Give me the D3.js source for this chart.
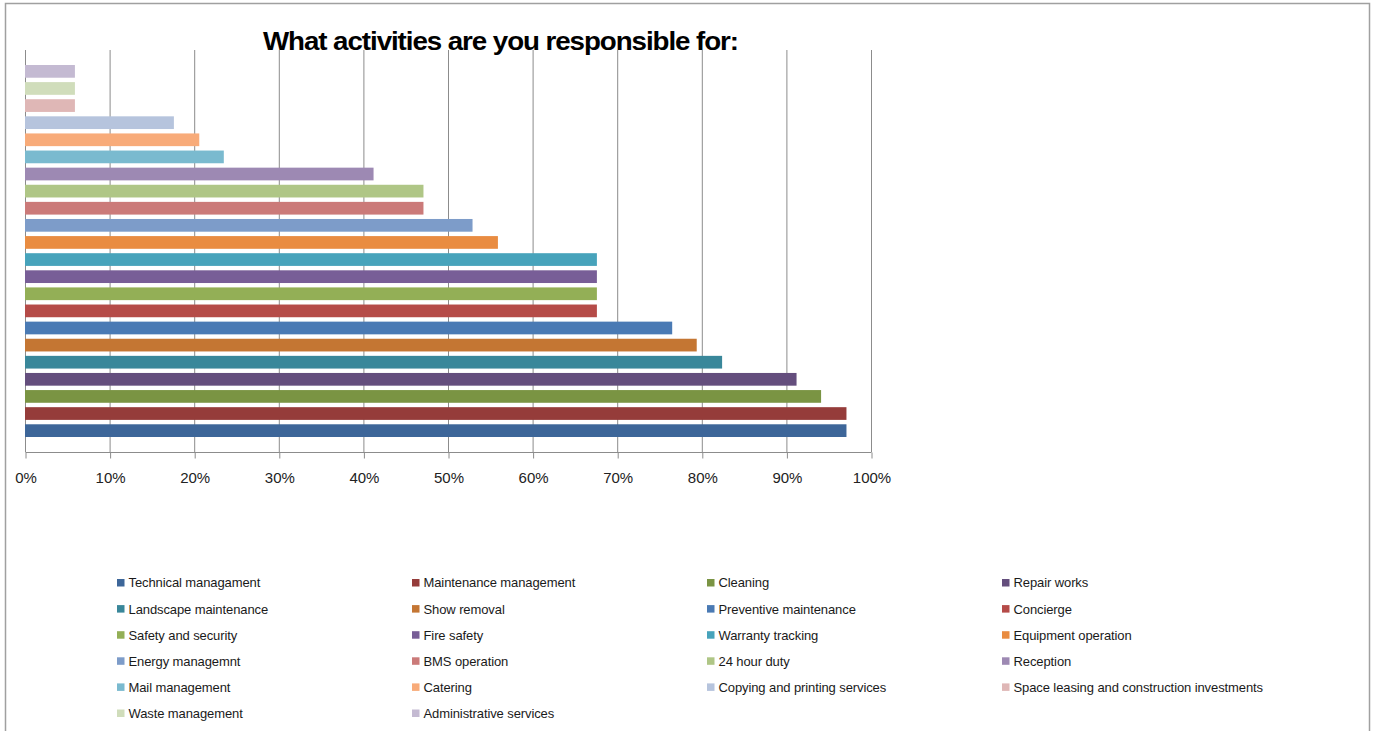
<!DOCTYPE html>
<html>
<head>
<meta charset="utf-8">
<script src="https://cdn.jsdelivr.net/npm/d3@7"></script>
<style>
  html, body { margin: 0; padding: 0; background: #fff; }
  svg { display: block; font-family: "Liberation Sans", Arial, sans-serif; }
</style>
</head>
<body>
<svg id="chart" width="1376" height="731"></svg>
<script>
// Survey answers, share of respondents (%), in legend order
const activities = [
  "Technical managament", "Maintenance management", "Cleaning", "Repair works",
  "Landscape maintenance", "Show removal", "Preventive maintenance", "Concierge",
  "Safety and security", "Fire safety", "Warranty tracking", "Equipment operation",
  "Energy managemnt", "BMS operation", "24 hour duty", "Reception",
  "Mail management", "Catering", "Copying and printing services",
  "Space leasing and construction investments", "Waste management", "Administrative services"
];
const shares = [
  97.1, 97.1, 94.1, 91.2,
  82.4, 79.4, 76.5, 67.6,
  67.6, 67.6, 67.6, 55.9,
  52.9, 47.1, 47.1, 41.2,
  23.5, 20.6, 17.6,
  5.9, 5.9, 5.9
];
const palette = [
  "#3d6699", "#953c3a", "#7a9443", "#644e7d",
  "#39879a", "#c47633", "#4a7ab4", "#b54b48",
  "#93af56", "#785e97", "#47a3bb", "#e98c41",
  "#7d9cc9", "#cb7a79", "#afc686", "#9d89b3",
  "#7abacf", "#f8ab79", "#b6c4dd",
  "#dfb7b6", "#d0ddbb", "#c4bad2"
];
const xTicks = [0, 10, 20, 30, 40, 50, 60, 70, 80, 90, 100];
const title = "What activities are you responsible for:";

const svg = d3.select("#chart");

// outer frame
svg.append("rect")
  .attr("x", 5.5).attr("y", 3.5)
  .attr("width", 1364).attr("height", 760)
  .attr("fill", "none").attr("stroke", "#a0a0a0").attr("stroke-width", 1.5);

const plot = { left: 25, right: 871, top: 50, bottom: 452 };

const x = d3.scaleLinear().domain([0, 100]).range([plot.left, plot.right]);
const y = d3.scaleBand()
  .domain(activities)
  .range([plot.bottom, plot.top])
  .paddingInner(0.257)
  .paddingOuter(0.877);

// vertical gridlines
svg.append("g")
  .selectAll("line")
  .data(xTicks)
  .join("line")
  .attr("x1", d => x(d) + 0.5).attr("x2", d => x(d) + 0.5)
  .attr("y1", plot.top).attr("y2", plot.bottom)
  .attr("stroke", "#8c8c8c").attr("stroke-width", 1);

// bars
svg.append("g")
  .selectAll("rect")
  .data(activities)
  .join("rect")
  .attr("x", x(0))
  .attr("y", d => y(d))
  .attr("width", (d, i) => x(shares[i]) - x(0))
  .attr("height", y.bandwidth())
  .attr("fill", (d, i) => palette[i]);

// bottom axis
const axis = svg.append("g")
  .attr("transform", `translate(0.5,${plot.bottom + 0.5})`)
  .call(d3.axisBottom(x)
    .tickValues(xTicks)
    .tickSize(6)
    .tickPadding(14)
    .tickFormat(d => d + "%"));
axis.select(".domain").attr("stroke", "#8c8c8c").attr("d", `M${plot.left},0H${plot.right}`);
axis.selectAll(".tick line").attr("stroke", "#8c8c8c");
axis.selectAll(".tick text")
  .attr("fill", "#222")
  .style("font-size", "15px")
  .style("font-family", "'Liberation Sans', Arial, sans-serif");

// title
svg.append("text")
  .attr("x", 500.5).attr("y", 50)
  .attr("text-anchor", "middle")
  .attr("textLength", 475)
  .attr("lengthAdjust", "spacingAndGlyphs")
  .style("font-size", "26px")
  .style("font-weight", "bold")
  .style("letter-spacing", "-1px")
  .attr("fill", "#000")
  .text(title);

// legend: four columns
const colX = [117, 412, 707, 1002];
const rowY0 = 582.8, rowStep = 26.1;
const legend = svg.append("g")
  .selectAll("g")
  .data(activities)
  .join("g")
  .attr("transform", (d, i) => `translate(${colX[i % 4]},${rowY0 + Math.floor(i / 4) * rowStep})`);
legend.append("rect")
  .attr("x", 0).attr("y", -3.8)
  .attr("width", 7.5).attr("height", 7.5)
  .attr("fill", (d, i) => palette[i]);
legend.append("text")
  .attr("x", 11.5).attr("y", 4.6)
  .style("font-size", "13px")
  .style("letter-spacing", "-0.1px")
  .attr("fill", "#1a1a1a")
  .text(d => d);
</script>
</body>
</html>
